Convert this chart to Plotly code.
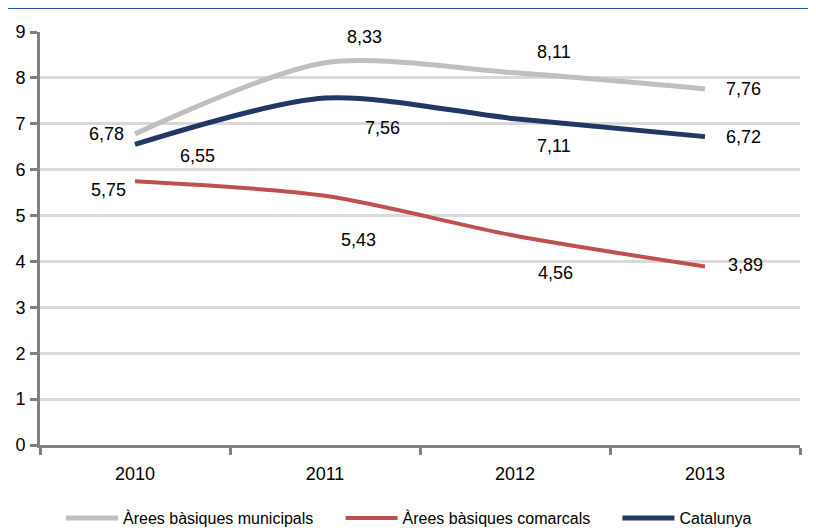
import plotly.graph_objects as go

years = ["2010", "2011", "2012", "2013"]
municipals = [6.78, 8.33, 8.11, 7.76]
comarcals = [5.75, 5.43, 4.56, 3.89]
catalunya = [6.55, 7.56, 7.11, 6.72]
names = ["Àrees bàsiques municipals", "Àrees bàsiques comarcals", "Catalunya"]
colors = ["#bfbfbf", "#c0504d", "#1f3864"]
widths = [5, 4, 5]
y_ticks = list(range(0, 10))

# label pixel offsets (xshift, yshift) per series per year
label_offsets = [
    [(-29, 0), (39, 26), (39, 21), (38, 0)],
    [(-27, -9), (33, -44), (40, -37), (40, 1)],
    [(62, -12), (57, -30), (39, -27), (38, 0)],
]

FONT = "Liberation Sans, Arial, sans-serif"
PAD = "\u00a0" * 5

fig = go.Figure()
series = [municipals, comarcals, catalunya]
for vals, name, col, w in zip(series, names, colors, widths):
    fig.add_trace(go.Scatter(
        x=years, y=vals, name=name + PAD, mode="lines",
        line=dict(color=col, width=w, shape="spline", smoothing=0.8),
    ))

annotations = []
for vals, offs in zip(series, label_offsets):
    for i, (v, (dx, dy)) in enumerate(zip(vals, offs)):
        annotations.append(dict(
            x=i, y=v, xref="x", yref="y",
            text=f"{v:.2f}".replace(".", ","),
            showarrow=False, xshift=dx, yshift=dy,
            font=dict(family=FONT, size=18, color="#000000"),
        ))

fig.update_layout(
    width=808, height=523,
    margin=dict(l=32, r=16, t=24, b=86, autoexpand=False),
    paper_bgcolor="white", plot_bgcolor="white",
    font=dict(family=FONT, size=16, color="#000000"),
    showlegend=True,
    legend=dict(orientation="h", x=0.5, xanchor="center", y=-0.177, yanchor="middle",
                itemwidth=52, font=dict(size=16), traceorder="normal"),
    annotations=annotations,
    shapes=[dict(type="line", xref="paper", yref="paper", x0=-0.042, x1=1.021,
                 y0=1.058, y1=1.058, line=dict(color="#2850a8", width=2))],
    xaxis=dict(
        type="category", range=[-0.5, 3.5], tickson="boundaries",
        showline=True, linecolor="#808080", linewidth=3,
        ticks="outside", ticklen=7, tickwidth=3, tickcolor="#808080",
        showgrid=False, tickfont=dict(size=18), zeroline=False,
        automargin=False, ticklabelstandoff=10,
    ),
    yaxis=dict(
        range=[0, 9], tickvals=y_ticks,
        showline=True, linecolor="#808080", linewidth=3,
        ticks="outside", ticklen=7, tickwidth=3, tickcolor="#808080",
        showgrid=True, gridcolor="#d9d9d9", gridwidth=3, zeroline=False,
        tickfont=dict(size=18), automargin=False, ticklabelstandoff=1,
    ),
)

fig.write_html("out.html")
